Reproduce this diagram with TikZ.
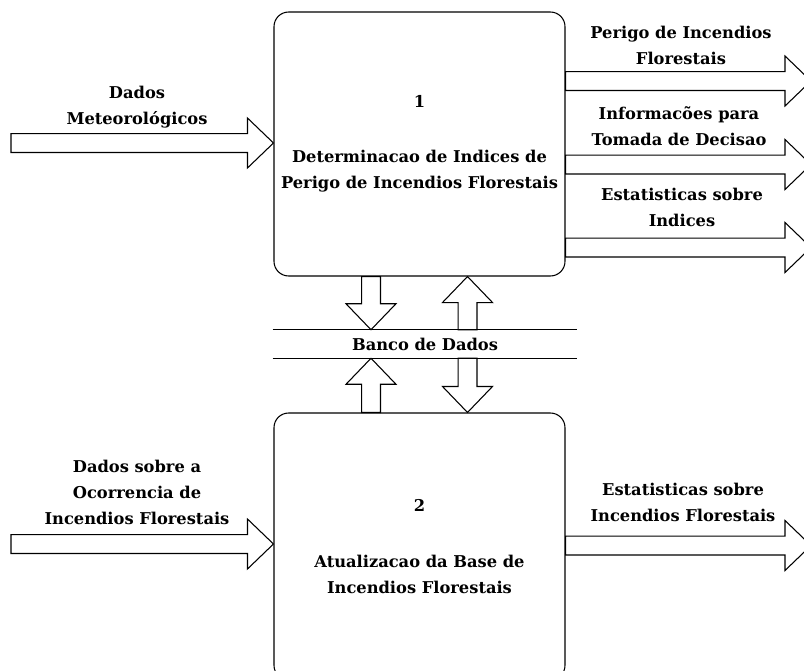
\documentclass[tikz,border=0pt]{standalone}
\usepackage{fontspec}
\setmainfont{DejaVu Serif}
\usetikzlibrary{calc, positioning}

% flow arrow drawn as a hollow block arrow from one point to another
\newcommand{\flowarrow}[2]{%
  \draw[flow] let \p1=(#1), \p2=(#2),
      \n1={atan2(\y2-\y1,\x2-\x1)}, \n2={veclen(\x2-\x1,\y2-\y1)} in
    [shift={(\p1)}, rotate=\n1]
    (0pt,7.1pt) -- (\n2-19.5pt,7.1pt) -- (\n2-19.5pt,18.75pt) -- (\n2,0pt)
    -- (\n2-19.5pt,-18.75pt) -- (\n2-19.5pt,-7.1pt) -- (0pt,-7.1pt) -- cycle;}

\begin{document}
\begin{tikzpicture}[x=0.75pt, y=-0.75pt,
    every node/.style={font=\bfseries\fontsize{12.2}{19.5}\selectfont},
    process/.style={draw, line width=0.8pt, rounded corners=11pt,
      minimum width=218.25pt, minimum height=198pt, align=center},
    store/.style={minimum width=228pt, minimum height=21pt},
    flowlabel/.style={align=center, inner sep=0pt},
    flow/.style={draw, fill=white, line width=0.8pt, line join=miter}]
\useasboundingbox (0,0) rectangle (804,671);
\clip (0,0) rectangle (804,671);

% processes
\node[process] (proc1) at (419.5,144)
  {1\\[22pt]Determinacao de Indices de\\Perigo de Incendios Florestais};
\node[process, minimum height=200.25pt] (proc2) at (419.5,546.5)
  {2\\[22pt]Atualizacao da Base de\\Incendios Florestais};

% data store
\node[store] (db) at (425,344) {Banco de Dados};
\draw[line width=0.8pt] (db.north west) -- (db.north east)
  (db.south west) -- (db.south east);

% columns of the vertical flows
\coordinate (lx) at (371,0);
\coordinate (rx) at (467.5,0);

% free ends of the outer flows
\coordinate (in1) at (11,143);
\coordinate (in2) at (11,544);
\coordinate (out1) at (811,81);
\coordinate (out2) at (811,164.5);
\coordinate (out3) at (811,247.5);
\coordinate (out4) at (811,545.5);

% inputs
\flowarrow{in1}{proc1.west |- in1}
\flowarrow{in2}{proc2.west |- in2}

% outputs
\flowarrow{proc1.east |- out1}{out1}
\flowarrow{proc1.east |- out2}{out2}
\flowarrow{proc1.east |- out3}{out3}
\flowarrow{proc2.east |- out4}{out4}

% exchanges with the data store
\flowarrow{proc1.south -| lx}{db.north -| lx}
\flowarrow{db.north -| rx}{proc1.south -| rx}
\flowarrow{proc2.north -| lx}{db.south -| lx}
\flowarrow{db.south -| rx}{proc2.north -| rx}

% flow labels
\node[flowlabel] (lin1) at (137,107.5) {Dados\\Meteorológicos};
\node[flowlabel] (lin2) at (137,492.5) {Dados sobre a\\Ocorrencia de\\Incendios Florestais};
\node[flowlabel] (lout1) at (681,45) {Perigo de Incendios\\Florestais};
\node[flowlabel] (lout2) at (679,126.5) {Informacões para\\Tomada de Decisao};
\node[flowlabel] (lout3) at (682,207.5) {Estatisticas sobre\\Indices};
\node[flowlabel] (lout4) at (683,502.5) {Estatisticas sobre\\Incendios Florestais};
\end{tikzpicture}
\end{document}
